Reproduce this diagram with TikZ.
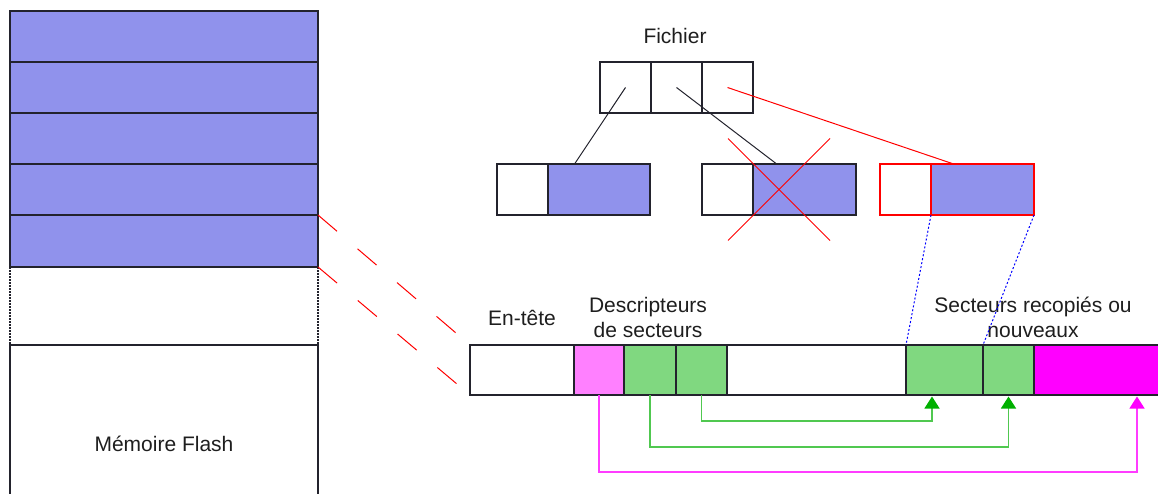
\documentclass[tikz,border=0pt]{standalone}
\usepackage{fontspec}
\setmainfont{Liberation Sans}
\usetikzlibrary{calc,arrows.meta}
\definecolor{memblue}{RGB}{144,146,236}
\definecolor{secgreen}{RGB}{128,216,128}
\definecolor{secpink}{RGB}{255,128,255}
\definecolor{secmag}{RGB}{255,0,255}
\definecolor{arrgreen}{RGB}{80,200,80}
\definecolor{headgreen}{RGB}{0,176,0}
\definecolor{arrpink}{RGB}{255,60,255}
\definecolor{headpink}{RGB}{255,0,255}
\definecolor{edge}{RGB}{35,35,45}
\definecolor{txt}{RGB}{30,30,30}
\begin{document}
\begin{tikzpicture}[x=1pt,y=-1pt,
  cell/.style={draw=edge,line width=1.5pt,inner sep=0pt,outer sep=0pt,anchor=north west,minimum height=51pt},
  lbl/.style={text=txt,font=\fontsize{21}{25}\selectfont,align=center,inner sep=0pt},
  link/.style={line width=1pt},
  greenroute/.style={arrgreen,line width=1.3pt,-{Triangle[width=15pt,length=12pt,color=headgreen]}},
  pinkroute/.style={arrpink,line width=1.3pt,-{Triangle[width=15pt,length=12pt,color=headpink]}},
  reddash/.style={red,line width=1pt,dash pattern=on 25pt off 27pt},
  bluedot/.style={blue,line width=1pt,dash pattern=on 2pt off 2pt},
  sidedot/.style={edge,line width=1.5pt,dash pattern=on 1.5pt off 1.5pt},
  border/.style={draw=edge,line width=1.5pt}
]
\useasboundingbox (0,0) rectangle (1158,493);
\clip (0,0) rectangle (1158,493);

% memory column
\foreach \i/\y/\h in {1/11/51,2/62/51,3/113/51,4/164/51,5/215/52}
  \node[cell,fill=memblue,minimum width=308pt,minimum height=\h pt] (m\i) at (10,\y) {};
\foreach \i in {1,...,5}
  \draw[border] (m\i.north west) rectangle (m\i.south east);
\node[cell,lbl,minimum width=308pt,minimum height=198pt] (flash) at (10,345) {Mémoire Flash};
\draw[sidedot] (m5.south west) -- (flash.north west);
\draw[sidedot] (m5.south east) -- (flash.north east);

% file
\node[lbl] (fichier) at (675,36) {Fichier};
\node[cell,minimum width=51pt] (f1) at (600,62) {};
\node[cell,minimum width=51pt] (f2) at (651,62) {};
\node[cell,minimum width=51pt] (f3) at (702,62) {};

\node[cell,fill=white,minimum width=51pt] (c1a) at (497,164) {};
\node[cell,fill=memblue,minimum width=102pt] (c1b) at (548,164) {};
\node[cell,fill=white,minimum width=51pt] (c2a) at (702,164) {};
\node[cell,fill=memblue,minimum width=103pt] (c2b) at (753,164) {};
\node[cell,draw=red,fill=white,minimum width=51pt] (c3a) at (880,164) {};
\node[cell,draw=red,fill=memblue,minimum width=103pt] (c3b) at (931,164) {};
\draw[border] (c1a.north east) -- (c1a.south east);
\draw[border] (c2a.north east) -- (c2a.south east);
\draw[border,draw=red] (c3a.north east) -- (c3a.south east);

\draw[edge,link] (f1.center) -- ($(c1b.north west)!0.26!(c1b.north east)$);
\draw[edge,link] (f2.center) -- ($(c2b.north west)!0.23!(c2b.north east)$);
\draw[red,link] (f3.center) -- ($(c3b.north west)!0.22!(c3b.north east)$);

\coordinate (x2) at ($(c2a.west)!0.5!(c2b.east)$);
\draw[red,line width=0.8pt] ($(x2)+(-51,-51)$) -- ($(x2)+(51,51)$);
\draw[red,line width=0.8pt] ($(x2)+(51,-51)$) -- ($(x2)+(-51,51)$);

% bar
\node[cell,fill=white,minimum width=104pt,minimum height=50pt] (e0) at (470,345) {};
\node[cell,fill=secpink,minimum width=50pt,minimum height=50pt] (pk) at (574,345) {};
\node[cell,fill=secgreen,minimum width=52pt,minimum height=50pt] (g1) at (624,345) {};
\node[cell,fill=secgreen,minimum width=51pt,minimum height=50pt] (g2) at (676,345) {};
\node[cell,fill=white,minimum width=179pt,minimum height=50pt] (gap) at (727,345) {};
\node[cell,fill=secgreen,minimum width=77pt,minimum height=50pt] (g3) at (906,345) {};
\node[cell,fill=secgreen,minimum width=51pt,minimum height=50pt] (g4) at (983,345) {};
\node[cell,fill=secmag,minimum width=140pt,minimum height=50pt] (mg) at (1034,345) {};
\foreach \c in {e0,pk,g1,g2,gap,g3,g4,mg}
  \draw[border] (\c.north west) rectangle (\c.south east);

% labels
\node[lbl] (entete) at (522,318) {En-tête};
\node[lbl] (desc) at (648,317) {Descripteurs\\de secteurs};
\node[lbl] (secs) at (1033,317) {Secteurs recopiés ou\\nouveaux};

% projections
\draw[reddash] (m5.north east) -- (e0.north west);
\draw[reddash] (m5.south east) -- (e0.south west);
\draw[bluedot] (c3b.south west) -- (g3.north west);
\draw[bluedot] (c3b.south east) -- (g4.north west);

% arrows
\draw[pinkroute] (pk.south) -- ++(0,77) -| ($(mg.south west)+(103,1.5)$);
\draw[greenroute] (g1.south) -- ++(0,52) -| ($(g4.south)+(0,1.5)$);
\draw[greenroute] (g2.south) -- ++(0,26) -| ($(g3.south west)+(26,1.5)$);
\end{tikzpicture}
\end{document}
